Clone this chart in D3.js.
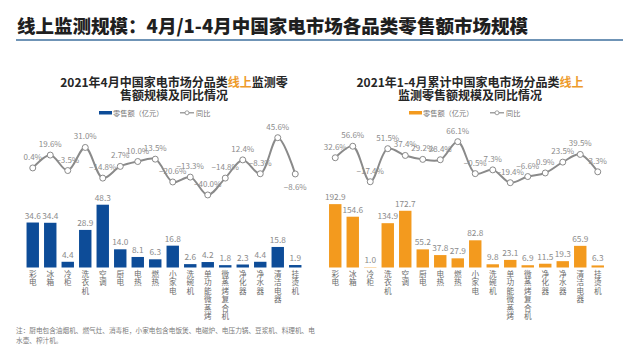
<!DOCTYPE html>
<html><head><meta charset="utf-8">
<script src="https://cdn.jsdelivr.net/npm/d3@7/dist/d3.min.js"></script>
<style>
html,body{margin:0;padding:0;background:#fff;}
svg{display:block;font-family:"Noto Sans CJK SC","Noto Sans",sans-serif;}
.vt{writing-mode:vertical-rl;text-orientation:upright;}
</style></head>
<body>
<svg id="c" width="640" height="360"></svg>
<script>
const categories = ["彩电","冰箱","冷柜","洗衣机","空调","厨电","电热","燃热","小家电","洗碗机","单功能微蒸烤","微蒸烤复合机","净化器","净水器","清洁电器","挂烫机"];
const aprSales = [34.6,34.4,4.4,28.9,48.3,14.0,8.1,6.3,16.8,2.6,4.2,1.8,2.3,4.4,15.8,1.9];
const aprYoY = [0.4,19.6,-3.5,31.0,-14.8,2.7,10.0,13.5,-20.6,-13.3,-40.0,-14.8,12.4,-8.3,45.6,-8.6];
const ytdSales = [192.9,154.6,1.0,134.9,172.7,55.2,37.8,27.9,82.8,9.8,23.1,6.9,11.5,19.3,65.9,6.3];
const ytdYoY = [32.6,56.6,-17.4,51.5,37.4,29.2,28.4,66.1,-0.5,7.3,-19.4,-6.6,0.9,23.5,39.5,3.3];

const mainTitle = "线上监测规模：4月/1-4月中国家电市场各品类零售额市场规模";
const footnote = ["注：厨电包含油烟机、燃气灶、消毒柜，小家电包含电饭煲、电磁炉、电压力锅、豆浆机、料理机、电","水壶、榨汁机。"];
const legendSales = "零售额（亿元）";
const legendYoY = "同比";

const svg = d3.select("#c");

// main title
svg.append("text").attr("x",17).attr("y",33)
  .attr("font-size",18.5).attr("font-weight",900).attr("fill","#1f1f1f")
  .attr("textLength",511).attr("lengthAdjust","spacingAndGlyphs")
  .text(mainTitle);
svg.append("line").attr("x1",16).attr("x2",623).attr("y1",40).attr("y2",40)
  .attr("stroke","#3f709e").attr("stroke-width",1.6);

function drawChart(opt){
  const g = svg.append("g");
  // chart title
  opt.title.forEach((ln,li)=>{
    const t = g.append("text").attr("x",opt.cx).attr("y",87+li*13)
      .attr("text-anchor","middle").attr("font-size",12).attr("font-weight",700).attr("fill","#262626");
    ln.forEach(seg=>{
      t.append("tspan").attr("fill",seg.hl?"#ee9a2a":"#262626").text(seg.t);
    });
  });
  // legend
  const lg = g.append("g");
  lg.append("rect").attr("x",opt.lx).attr("y",111).attr("width",13).attr("height",3.5).attr("fill",opt.color);
  lg.append("text").attr("x",opt.lx+14).attr("y",115.5).attr("font-size",7.2).attr("fill","#777").text(legendSales);
  lg.append("line").attr("x1",opt.lx+81).attr("x2",opt.lx+95).attr("y1",112.8).attr("y2",112.8).attr("stroke","#8a8a8a").attr("stroke-width",1.2);
  lg.append("circle").attr("cx",opt.lx+88).attr("cy",112.8).attr("r",2).attr("fill","#fff").attr("stroke","#8a8a8a").attr("stroke-width",0.8);
  lg.append("text").attr("x",opt.lx+97).attr("y",115.5).attr("font-size",7.2).attr("fill","#777").text(legendYoY);

  const x = d3.scaleBand().domain(categories).range(opt.xr).paddingInner(0.29).paddingOuter(0.145);
  const cxf = c => x(c)+x.bandwidth()/2;
  const yb = d3.scaleLinear().domain(opt.barDomain).range([267.5, opt.barTop]);
  const yl = d3.scaleLinear().domain(opt.lineDomain).range(opt.lineRange);

  // bars
  g.selectAll("rect.bar").data(opt.sales).enter().append("rect").attr("class","bar")
    .attr("x",(d,i)=>x(categories[i])).attr("width",x.bandwidth())
    .attr("y",d=>yb(d)).attr("height",d=>yb(0)-yb(d)).attr("fill",opt.color);
  g.selectAll("text.bl").data(opt.sales).enter().append("text").attr("class","bl")
    .attr("x",(d,i)=>cxf(categories[i])).attr("y",d=>yb(d)-4)
    .attr("text-anchor","middle").attr("font-size",8.3).attr("fill","#8c8c8c")
    .text(d=>d3.format(".1f")(d));
  // category labels (vertical text)
  g.selectAll("text.cat").data(categories).enter().append("text").attr("class","cat vt")
    .attr("x",d=>cxf(d)).attr("y",270)
    .attr("font-size",7.6).attr("letter-spacing",0.9).attr("fill","#6b6b6b")
    .text(d=>d);
  // line
  const pts = opt.yoy.map((v,i)=>[cxf(categories[i]), yl(v)]);
  g.append("path").attr("d",d3.line().curve(d3.curveCatmullRom.alpha(0.5))(pts))
    .attr("fill","none").attr("stroke","#8a8a8a").attr("stroke-width",2);
  g.selectAll("circle.pt").data(opt.yoy).enter().append("circle").attr("class","pt")
    .attr("cx",(d,i)=>pts[i][0]).attr("cy",(d,i)=>pts[i][1]).attr("r",3)
    .attr("fill","#fff").attr("stroke","#8a8a8a").attr("stroke-width",1);
  g.selectAll("text.ll").data(opt.yoy).enter().append("text").attr("class","ll")
    .attr("x",(d,i)=>pts[i][0]).attr("y",(d,i)=> i===opt.belowIdx ? pts[i][1]+16 : pts[i][1]-8)
    .attr("text-anchor","middle").attr("font-size",8).attr("fill","#8c8c8c")
    .text(d=>d3.format(".1f")(d)+"%");
}

drawChart({
  title:[[{t:"2021年4月中国家电市场分品类"},{t:"线上",hl:true},{t:"监测零"}],[{t:"售额规模及同比情况"}]],
  cx:174, lx:99, color:"#0d4c98",
  xr:[24,304], sales:aprSales, yoy:aprYoY,
  barDomain:[0,50], barTop:202.5,
  lineDomain:[-50,50], lineRange:[201.65,134.75], belowIdx:15
});
drawChart({
  title:[[{t:"2021年1-4月累计中国家电市场分品类"},{t:"线上",hl:true}],[{t:"监测零售额规模及同比情况"}]],
  cx:470, lx:409, color:"#f39a1e",
  xr:[326.5,606.5], sales:ytdSales, yoy:ytdYoY,
  barDomain:[0,200], barTop:201.8,
  lineDomain:[-20,70], lineRange:[182.99,139.8], belowIdx:-1
});

// footnote
footnote.forEach((ln,i)=>{
  svg.append("text").attr("x",16).attr("y",333+i*9.5).attr("font-size",6.65).attr("fill","#7a7a7a").text(ln);
});
</script>
</body></html>
